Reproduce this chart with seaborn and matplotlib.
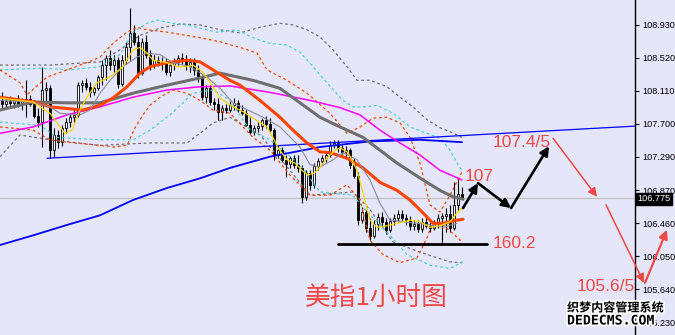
import numpy as np
import matplotlib
matplotlib.use("Agg")
import matplotlib.pyplot as plt
import matplotlib.patheffects as pe
import matplotlib.transforms as mtransforms
import seaborn as sns

# ---------------- data (USD index, 1-hour bars) ----------------
opens = [107.99, 107.95, 107.98, 107.96, 107.99, 107.95, 107.98, 108.01, 107.95, 107.80,
         107.72, 108.12, 108.14, 107.37, 107.56, 107.47, 107.65, 107.72, 107.78, 107.81,
         108.18, 108.21, 108.16, 108.09, 108.14, 108.28, 108.43, 108.52, 108.43, 108.49,
         108.19, 108.49, 108.65, 108.83, 108.72, 108.33, 108.72, 108.56, 108.43, 108.49,
         108.47, 108.46, 108.34, 108.43, 108.47, 108.52, 108.49, 108.42, 108.47, 108.37,
         108.27, 108.03, 108.14, 107.97, 107.95, 107.85, 107.90, 107.87, 107.93, 107.96,
         107.87, 107.83, 107.68, 107.60, 107.65, 107.67, 107.75, 107.70, 107.62, 107.31,
         107.37, 107.25, 107.20, 107.27, 107.19, 107.15, 106.79, 107.09, 106.94, 107.17,
         107.24, 107.27, 107.31, 107.43, 107.46, 107.40, 107.35, 107.37, 107.19, 107.05,
         106.50, 106.60, 106.40, 106.30, 106.45, 106.54, 106.48, 106.38, 106.49, 106.53,
         106.58, 106.53, 106.50, 106.43, 106.45, 106.39, 106.48, 106.43, 106.40, 106.46,
         106.53, 106.55, 106.58, 106.40, 106.69, 106.82]
highs = [108.09, 108.02, 108.04, 108.01, 108.06, 108.02, 108.24, 108.06, 107.99, 107.90,
         108.41, 108.22, 108.18, 107.65, 107.62, 107.68, 107.77, 107.83, 107.87, 108.22,
         108.24, 108.27, 108.22, 108.18, 108.31, 108.49, 108.56, 108.62, 108.56, 108.53,
         108.56, 108.72, 109.14, 108.93, 108.80, 108.77, 108.80, 108.62, 108.56, 108.54,
         108.53, 108.52, 108.47, 108.52, 108.56, 108.58, 108.56, 108.52, 108.52, 108.43,
         108.31, 108.18, 108.18, 108.02, 108.02, 107.93, 107.95, 107.99, 108.02, 107.99,
         107.93, 107.87, 107.78, 107.68, 107.72, 107.77, 107.80, 107.77, 107.65, 107.43,
         107.41, 107.31, 107.30, 107.31, 107.31, 107.19, 107.12, 107.12, 107.21, 107.27,
         107.31, 107.35, 107.48, 107.50, 107.50, 107.43, 107.42, 107.40, 107.27, 107.10,
         106.66, 106.63, 106.53, 106.50, 106.59, 106.60, 106.53, 106.53, 106.58, 106.63,
         106.63, 106.58, 106.55, 106.50, 106.50, 106.53, 106.54, 106.48, 106.50, 106.58,
         106.59, 106.65, 106.69, 106.97, 107.02, 106.91]
lows = [107.90, 107.90, 107.92, 107.90, 107.91, 107.87, 107.78, 107.92, 107.77, 107.66,
        107.41, 107.93, 107.27, 107.29, 107.40, 107.42, 107.58, 107.66, 107.72, 107.78,
        108.09, 108.12, 108.03, 108.06, 108.12, 108.18, 108.24, 108.37, 108.34, 108.14,
        108.17, 108.44, 108.49, 108.68, 108.27, 108.31, 108.52, 108.37, 108.39, 108.42,
        108.37, 108.31, 108.29, 108.37, 108.42, 108.44, 108.37, 108.34, 108.31, 108.22,
        107.99, 107.96, 107.93, 107.87, 107.75, 107.75, 107.83, 107.85, 107.87, 107.85,
        107.81, 107.67, 107.57, 107.56, 107.60, 107.62, 107.65, 107.60, 107.25, 107.27,
        107.22, 107.04, 107.15, 107.15, 107.10, 106.71, 106.75, 106.87, 106.90, 107.12,
        107.19, 107.22, 107.29, 107.40, 107.35, 107.31, 107.27, 107.15, 107.02, 106.44,
        106.46, 106.35, 106.25, 106.28, 106.38, 106.41, 106.33, 106.35, 106.44, 106.48,
        106.49, 106.44, 106.38, 106.38, 106.35, 106.35, 106.40, 106.35, 106.38, 106.40,
        106.19, 106.35, 106.35, 106.38, 106.63, 106.76]
closes = [107.95, 107.98, 107.96, 107.99, 107.95, 107.98, 108.01, 107.95, 107.80, 107.72,
          108.12, 108.14, 107.37, 107.56, 107.47, 107.65, 107.72, 107.78, 107.81, 108.18,
          108.21, 108.16, 108.09, 108.14, 108.28, 108.43, 108.52, 108.43, 108.49, 108.19,
          108.49, 108.65, 108.83, 108.72, 108.33, 108.72, 108.56, 108.43, 108.49, 108.47,
          108.46, 108.34, 108.43, 108.47, 108.52, 108.49, 108.42, 108.47, 108.37, 108.27,
          108.03, 108.14, 107.97, 107.95, 107.85, 107.90, 107.87, 107.93, 107.96, 107.87,
          107.83, 107.68, 107.60, 107.65, 107.67, 107.75, 107.70, 107.62, 107.31, 107.37,
          107.25, 107.20, 107.27, 107.19, 107.15, 106.79, 107.09, 106.94, 107.17, 107.24,
          107.27, 107.31, 107.43, 107.46, 107.40, 107.35, 107.37, 107.19, 107.05, 106.50,
          106.60, 106.40, 106.30, 106.45, 106.54, 106.48, 106.38, 106.49, 106.53, 106.58,
          106.53, 106.50, 106.43, 106.45, 106.39, 106.48, 106.43, 106.40, 106.46, 106.53,
          106.55, 106.58, 106.40, 106.69, 106.82, 106.775]

# indicator lines (bar index, price)
ma_orange_x = [-0.5, 8.25, 12, 20.25, 24.5, 27.75, 31.25, 34.5, 37, 41.25, 46.25, 49.5, 52.75, 57,
               59.5, 64.5, 69.5, 72.75, 76.25, 79.5, 82, 86.25, 90.25, 94.5, 98.75, 102, 105.25,
               107.75, 110.25, 113.75, 115.25]
ma_orange_y = [108.03, 107.97, 107.91, 107.87, 107.93, 108.02, 108.16, 108.33, 108.41, 108.46, 108.49,
               108.47, 108.37, 108.24, 108.18, 107.99, 107.78, 107.62, 107.46, 107.35, 107.34, 107.27,
               107.15, 106.97, 106.87, 106.75, 106.59, 106.46, 106.46, 106.50, 106.51]
ma_gray_x = [-0.5, 7.75, 16.25, 24.5, 32.75, 41.25, 49.5, 54.5, 62.75, 69.5, 74.5, 79.5, 84.5, 90.25,
             94.5, 98.75, 105.25, 109.5, 112.75, 115.25]
ma_gray_y = [107.87, 107.97, 107.96, 107.96, 108.08, 108.18, 108.27, 108.33, 108.24, 108.14, 107.96,
             107.78, 107.66, 107.53, 107.37, 107.21, 107.00, 106.87, 106.79, 106.76]
ma_magenta_x = [-0.5, 7.75, 16.25, 24.5, 32.75, 41.25, 49.5, 57, 67, 77, 84.5, 89.5, 94.5, 99.5, 104.5,
                109.5, 115]
ma_magenta_y = [107.58, 107.66, 107.81, 107.91, 108.03, 108.12, 108.16, 108.17, 108.09, 107.99, 107.90,
                107.81, 107.62, 107.46, 107.31, 107.12, 107.00]
ma_blue_x = [-0.5, 7.75, 16.25, 24.5, 32.75, 41.25, 49.5, 57, 67, 79.5, 92, 104.5, 115]
ma_blue_y = [106.19, 106.31, 106.44, 106.56, 106.75, 106.90, 107.02, 107.15, 107.29, 107.41, 107.48,
             107.50, 107.47]
ma_yellow_x = [-0.5, 4.5, 7.75, 9.5, 12, 15.75, 17.5, 19.5, 21.25, 23.75, 27, 30.25, 32.75, 34.5, 36.25,
               37.75, 41.25, 43.75, 46.25, 47.75, 50.25, 52.75, 54.5, 57.75, 60.25, 62.75, 66.25, 67.75,
               69, 71.25, 73.25, 75, 76.5, 78.25, 79.5, 81.25, 83.25, 84.5, 86.5, 88.75, 90.25, 92,
               93.75, 96.25, 98.75, 102, 104.5, 107, 109.5, 112, 113.75, 115.25]
ma_yellow_y = [108.02, 107.99, 107.97, 107.91, 107.83, 107.58, 107.62, 107.87, 108.03, 108.21, 108.28,
               108.41, 108.62, 108.65, 108.58, 108.49, 108.46, 108.41, 108.41, 108.43, 108.34, 108.16,
               108.02, 107.91, 107.85, 107.77, 107.66, 107.53, 107.40, 107.25, 107.21, 107.12, 107.06,
               107.09, 107.16, 107.27, 107.37, 107.40, 107.34, 107.12, 106.84, 106.50, 106.41, 106.43,
               106.46, 106.50, 106.48, 106.41, 106.43, 106.48, 106.59, 106.66]
ma_thin_x = [-0.5, 7.75, 12, 14.5, 19.5, 22, 24.5, 27, 30.25, 33.75, 36.25, 39.5, 42.75, 47, 51.25, 54.5,
             57.75, 65.25, 69.5, 74.5, 77, 79.5, 82.75, 85.25, 88.75, 92, 94.5, 97, 100.25, 103.75,
             107, 110.25, 113.75]
ma_thin_y = [107.99, 107.97, 107.91, 107.83, 107.81, 107.87, 108.08, 108.24, 108.41, 108.53, 108.58,
             108.56, 108.46, 108.41, 108.28, 108.14, 107.96, 107.78, 107.66, 107.41, 107.19, 107.16,
             107.25, 107.34, 107.25, 107.00, 106.71, 106.50, 106.48, 106.46, 106.44, 106.41, 106.46]

bb_orange_up_x = [-0.5, 4.5, 6.25, 11.25, 16.25, 22.75, 24.5, 27.75, 31.25, 33.75, 36.25, 41.25, 49.5,
                  54.5, 59.5, 63.75, 66.25, 71.25, 76.25, 82, 86.25, 89.5, 92.75, 96.25, 99.5, 102,
                  104.5, 107, 109.5, 112, 115]
bb_orange_up_y = [108.37, 108.21, 108.06, 108.28, 108.37, 108.49, 108.53, 108.70, 108.84, 108.90, 108.87,
                  108.84, 108.77, 108.72, 108.65, 108.58, 108.37, 108.24, 108.08, 107.83, 107.58, 107.66,
                  107.77, 107.78, 107.71, 107.53, 107.21, 106.69, 106.60, 106.81, 107.10]
bb_orange_lo_x = [-0.5, 7.75, 12, 16.25, 24.5, 27.75, 31.25, 33.25, 35.25, 37, 39.5, 42.75, 46.25, 49.5,
                  52.75, 57, 62.75, 67, 72, 77, 82, 86.25, 89.5, 92, 95.25, 99.5, 103.75, 106.25, 107.75,
                  110.25, 113.25, 115]
bb_orange_lo_y = [107.66, 107.62, 107.50, 107.47, 107.43, 107.41, 107.43, 107.65, 107.81, 107.93, 108.03,
                  108.12, 108.08, 107.99, 107.87, 107.83, 107.53, 107.37, 107.06, 106.81, 106.81, 106.94,
                  106.75, 106.25, 106.07, 105.97, 106.03, 106.28, 106.48, 106.44, 106.31, 106.23]
bb_cyan_up_x = [-0.5, 9.5, 17, 24.5, 29.5, 32.75, 36.25, 38.75, 42.75, 46.25, 49.5, 53.75, 58.75, 62.75,
                67, 71.25, 74.5, 77.75, 81.25, 85.25, 87.75, 91.25, 93.75, 97.75, 102, 106.25, 109.5, 112,
                114, 115.25]
bb_cyan_up_y = [108.37, 108.39, 108.37, 108.41, 108.56, 108.84, 108.95, 108.99, 108.95, 108.93, 108.89,
                108.84, 108.87, 108.77, 108.70, 108.68, 108.59, 108.41, 108.21, 107.99, 107.91, 107.91,
                107.93, 107.83, 107.66, 107.58, 107.52, 107.37, 107.19, 107.10]
bb_cyan_lo_x = [-0.5, 9.5, 13.75, 24.5, 32.75, 37, 42, 47.75, 52.75, 57, 62, 67, 74.5, 79.5, 87.75, 90.75,
                96.25, 101.25, 107, 112, 115.25]
bb_cyan_lo_y = [107.72, 107.68, 107.53, 107.50, 107.50, 107.62, 107.81, 108.08, 108.12, 107.99, 107.62,
                107.50, 107.19, 106.85, 106.81, 106.63, 106.35, 106.07, 105.94, 105.90, 105.98]
bb_gray_up_x = [-0.5, 12, 24.5, 29.5, 34.5, 39.5, 44.5, 49.5, 54.5, 59.5, 64.5, 69.5, 72.75, 76.25, 79.5,
                82.75, 86.25, 88.75, 92, 96.25, 99.5, 102.75, 106.25, 109.5, 112, 115]
bb_gray_up_y = [108.43, 108.43, 108.47, 108.62, 108.80, 108.89, 108.94, 108.93, 108.87, 108.83, 108.90,
                108.95, 108.93, 108.87, 108.78, 108.62, 108.41, 108.24, 108.24, 108.16, 108.03, 107.91,
                107.75, 107.65, 107.60, 107.53]
bb_gray_lo_x = [-0.5, 4.5, 12, 24.5, 36.25, 46.25, 49.5, 52.75, 57, 64.5, 72, 77, 87.75, 92, 97.75, 104.5,
                112, 115]
bb_gray_lo_y = [107.29, 107.56, 107.50, 107.43, 107.46, 107.46, 107.58, 107.71, 107.78, 107.56, 107.12,
                106.81, 106.85, 106.63, 106.23, 106.10, 105.98, 105.97]

trend_x = [11.25, 158.25]
trend_y = [107.27, 107.67]
support_x = [84, 121.25]
support_y = [106.20, 106.20]
last_price = 106.775

tick_values = [108.930, 108.520, 108.110, 107.700, 107.290, 106.870, 106.460, 106.050, 105.640, 105.230]

# ---------------- style ----------------
BG = "#E6E6FA"
RED = "#EE4848"
sns.set_style("white")
plt.rcParams['font.family'] = ['Liberation Sans', 'Noto Sans CJK SC', 'DejaVu Sans']

fig = plt.figure(figsize=(6.75, 3.35), dpi=100)
fig.patch.set_facecolor(BG)
ax = fig.add_axes([0, 0, 635 / 675, 1])
ax.set_facecolor(BG)

# current price line
ax.axhline(last_price, color="#C0C0C0", lw=0.9, zorder=1)

# candles
idx = np.arange(len(closes))
o = np.array(opens); c = np.array(closes); h = np.array(highs); l = np.array(lows)
ax.vlines(idx, l, h, color="black", lw=0.8, zorder=2)
bottoms = np.minimum(o, c)
heights = np.maximum(np.abs(c - o), 0.008)
face = ["white" if cc >= oo else "black" for oo, cc in zip(o, c)]
ax.bar(idx, heights, bottom=bottoms, width=0.72, color=face, edgecolor="black", linewidth=0.6, zorder=3)


def line(xs, ys, color, lw, ls="-", z=4):
    sns.lineplot(x=xs, y=ys, ax=ax, color=color, linewidth=lw, linestyle=ls,
                 estimator=None, sort=False, legend=False, zorder=z)


dash = (0, (2.2, 2.2))
line(bb_gray_up_x, bb_gray_up_y, "#6E6E6E", 0.9, dash)
line(bb_gray_lo_x, bb_gray_lo_y, "#6E6E6E", 0.9, dash)
line(bb_cyan_up_x, bb_cyan_up_y, "#48D1CC", 0.9, dash)
line(bb_cyan_lo_x, bb_cyan_lo_y, "#48D1CC", 0.9, dash)
line(bb_orange_up_x, bb_orange_up_y, "#FF4500", 0.9, dash)
line(bb_orange_lo_x, bb_orange_lo_y, "#FF4500", 0.9, dash)

line(ma_blue_x, ma_blue_y, "#0000FF", 1.3)
line(trend_x, trend_y, "#0000FF", 0.9)
line(ma_magenta_x, ma_magenta_y, "#FF00FF", 1.1)
line(ma_gray_x, ma_gray_y, "#6E6E6E", 2.2)
line(ma_orange_x, ma_orange_y, "#FF4500", 2.2)
line(ma_thin_x, ma_thin_y, "#8A8A9A", 0.8)
line(ma_yellow_x, ma_yellow_y, "#FFD700", 0.9)
line(support_x, support_y, "black", 2.0, z=5)

# axes
ax.set_xlim(-0.5, 158.25)
ax.set_ylim(105.07, 109.24)
ax.set_xticks([])
ax.yaxis.tick_right()
ax.set_yticks(tick_values)
ax.set_yticklabels([f"{v:.3f}" for v in tick_values])
ax.tick_params(axis="y", direction="out", length=3, width=0.8, pad=2, labelsize=6.6, colors="black")
for s in ["left", "top", "bottom"]:
    ax.spines[s].set_visible(False)
ax.spines["right"].set_color("black")
ax.spines["right"].set_linewidth(1.0)
ax.set_xlabel(""); ax.set_ylabel("")

# current price box
trans = mtransforms.blended_transform_factory(ax.transAxes, ax.transData)
ax.text(1.004, last_price - 0.01, f"{last_price:.3f}", transform=trans, color="white", fontsize=6.6,
        ha="left", va="center", zorder=10,
        bbox=dict(boxstyle="square,pad=0.15", fc="black", ec="black"))

# forecast arrows (black)
bk = dict(arrowstyle="-|>", color="black", lw=1.9, mutation_scale=13, shrinkA=0, shrinkB=0)
ax.annotate("", xy=(119, 106.96), xytext=(115.25, 106.65), arrowprops=bk, annotation_clip=False, zorder=8)
ax.annotate("", xy=(127.25, 106.65), xytext=(119, 106.96), arrowprops=bk, annotation_clip=False, zorder=8)
ax.annotate("", xy=(136.75, 107.42), xytext=(127.25, 106.65), arrowprops=bk, annotation_clip=False, zorder=8)

# forecast arrows (red)
rd = dict(arrowstyle="-|>", color=RED, lw=1.1, mutation_scale=13, shrinkA=0, shrinkB=0)
ax.annotate("", xy=(148.75, 106.79), xytext=(137.75, 107.52), arrowprops=rd, annotation_clip=False, zorder=8)
ax.annotate("", xy=(160.5, 105.72), xytext=(151, 106.69), arrowprops=rd, annotation_clip=False, zorder=8)
rd2 = dict(rd, lw=1.6)
ax.annotate("", xy=(166.25, 106.38), xytext=(160.75, 105.72), arrowprops=rd2, annotation_clip=False, zorder=8)

# labels
ax.text(115.75, 107.04, "107", color=RED, fontsize=12.5, ha="left", va="center", zorder=9)
ax.text(122.75, 107.46, "107.4/5", color=RED, fontsize=12.5, ha="left", va="center", zorder=9)
ax.text(122.75, 106.21, "160.2", color=RED, fontsize=12.5, ha="left", va="center", zorder=9)
ax.text(143.75, 105.67, "105.6/5", color=RED, fontsize=12.5, ha="left", va="center", zorder=9)
ax.text(75.75, 105.53, "美指1小时图", color=RED, fontsize=18.5, ha="left", va="center",
        family=["Noto Sans CJK SC", "DejaVu Sans"], zorder=9)

# watermark
stroke = [pe.withStroke(linewidth=2.5, foreground="white")]
fig.text(567 / 675, 1 - 308 / 335, "织梦内容管理系统", fontsize=8.7, fontweight="bold", color="black",
         ha="left", va="center", family=["Noto Sans CJK SC", "DejaVu Sans"], path_effects=stroke, zorder=20)
fig.text(567 / 675, 1 - 321 / 335, "DEDECMS.COM", fontsize=9.5, fontweight="bold", color="black",
         ha="left", va="center", family=["DejaVu Sans Mono"], path_effects=stroke, zorder=20)

fig.savefig("out.png", dpi=100, facecolor=BG)
